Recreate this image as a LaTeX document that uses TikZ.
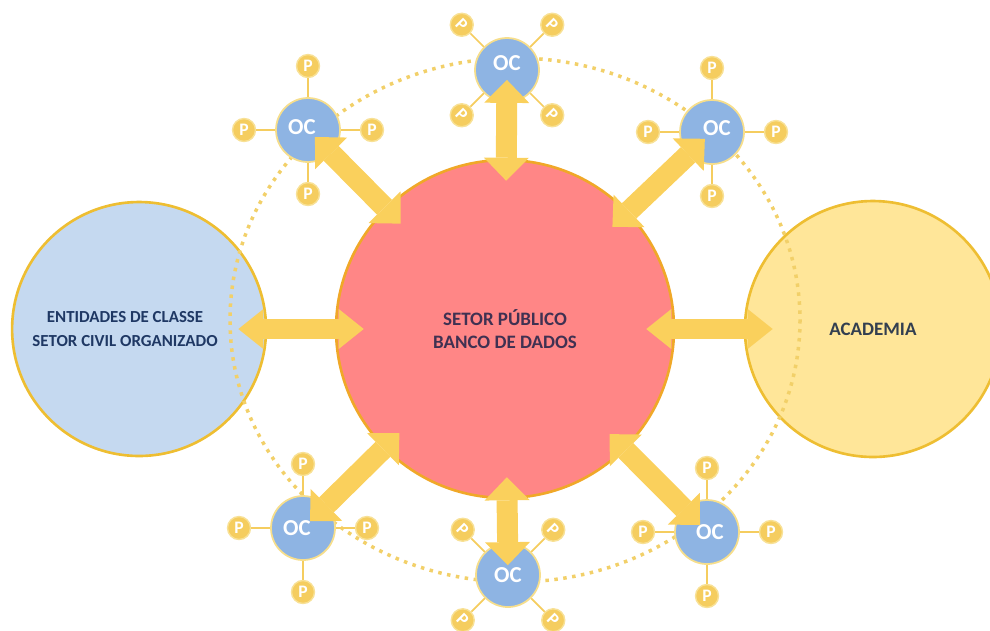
\documentclass[tikz,border=0pt]{standalone}
\usepackage{tikz}
\usepackage{graphicx}
\usepackage{xcolor}
\usepackage{fontspec}
\setmainfont{Carlito}
\usetikzlibrary{positioning}
\usetikzlibrary{arrows.meta}

\definecolor{pubfill}{RGB}{255,134,134}
\definecolor{publine}{RGB}{240,168,40}
\definecolor{entfill}{RGB}{197,217,240}
\definecolor{acafill}{RGB}{255,230,153}
\definecolor{goldline}{RGB}{238,190,50}
\definecolor{ocfill}{RGB}{142,180,227}
\definecolor{ocline}{RGB}{246,222,140}
\definecolor{pfill}{RGB}{245,205,95}
\definecolor{pline}{RGB}{248,225,150}
\definecolor{arrowfill}{RGB}{250,208,92}
\definecolor{ringcol}{RGB}{242,208,105}
\definecolor{pubtext}{RGB}{64,49,82}
\definecolor{enttext}{RGB}{31,56,100}
\definecolor{acatext}{RGB}{51,63,80}

\tikzstyle{public} = [circle, minimum size=6.76cm, align=center, draw=publine, line width=1.5pt, fill=pubfill, text=pubtext, font=\fontsize{10.8}{13.5}\selectfont\bfseries]
\tikzstyle{entity} = [circle, minimum size=5.08cm, align=center, draw=goldline, line width=1.5pt, fill=entfill, text=enttext, font=\fontsize{9.6}{13.5}\selectfont\bfseries]
\tikzstyle{academy} = [circle, minimum size=5.12cm, align=center, draw=goldline, line width=1.5pt, fill=acafill, text=acatext, font=\fontsize{10.8}{13.5}\selectfont\bfseries]
\tikzstyle{oc} = [circle, minimum size=1.28cm, inner sep=0pt, draw=ocline, line width=1pt, fill=ocfill, text=white, font=\fontsize{13}{13}\selectfont\bfseries]
\tikzstyle{pnode} = [circle, minimum size=0.46cm, inner sep=0pt, draw=pline, line width=0.8pt, fill=pfill, text=white, font=\fontsize{10}{10}\selectfont\bfseries]
\tikzstyle{pwire} = [draw=pfill, line width=1pt]
\tikzstyle{ring} = [draw=ringcol, line width=0.07cm, dash pattern=on 0.07cm off 0.11cm]
\tikzstyle{dblarrow} = [draw=arrowfill, line width=0.42cm, {Triangle[length=0.46cm, width=0.9cm, line width=0pt]}-{Triangle[length=0.46cm, width=0.9cm, line width=0pt]}, shorten <=-0.46cm, shorten >=-0.44cm]
\tikzstyle{sidearrow} = [draw=arrowfill, line width=0.4cm, {Triangle[length=0.5cm, width=0.8cm, line width=0pt]}-{Triangle[length=0.5cm, width=0.8cm, line width=0pt]}, shorten <=-0.58cm, shorten >=-0.58cm]

\begin{document}
\begin{tikzpicture}[x=0.02cm, y=-0.02cm, node distance=1.28cm]
        \useasboundingbox (0,0) rectangle (990,630);

        \node (pub) [public] at (505,329) {SETOR PÚBLICO\\ BANCO DE DADOS};
        \node (entidades) [entity, left of=pub, xshift=-6.04cm] {ENTIDADES DE CLASSE\hspace*{0.56cm}\\ SETOR CIVIL ORGANIZADO\hspace*{0.56cm}};
        \node (academia) [academy, right of=pub, xshift=6.08cm] {ACADEMIA};

        \coordinate (ringcentre) at (515,320);
        \draw [ring] (ringcentre) ellipse [x radius=285, y radius=262];

        % OC text nudged away from the arrow heads
        \node (oc1) [oc] at (308,130) {\raisebox{0.12cm}{OC}\hspace*{0.24cm}};
        \node (oc2) [oc] at (507,70) {\raisebox{0.28cm}{OC}};
        \node (oc3) [oc] at (712,132) {\hspace*{0.2cm}\raisebox{0.16cm}{OC}};
        \node (oc4) [oc] at (303,528) {\raisebox{-0.08cm}{OC}\hspace*{0.24cm}};
        \node (oc5) [oc] at (508,575) {\raisebox{-0.32cm}{OC}};
        \node (oc6) [oc] at (707,532) {\hspace*{0.12cm}\raisebox{-0.12cm}{OC}};

        \node (p1a) [pnode, above of=oc1] {P};
        \node (p1b) [pnode, left of=oc1] {P};
        \node (p1c) [pnode, right of=oc1] {P};
        \node (p1d) [pnode, below of=oc1] {P};
        \node (p2a) [pnode, above left of=oc2] {\rotatebox{-45}{P}};
        \node (p2b) [pnode, above right of=oc2] {\rotatebox{-45}{P}};
        \node (p2c) [pnode, below left of=oc2] {\rotatebox{-45}{P}};
        \node (p2d) [pnode, below right of=oc2] {\rotatebox{-45}{P}};
        \node (p3a) [pnode, above of=oc3] {P};
        \node (p3b) [pnode, left of=oc3] {P};
        \node (p3c) [pnode, right of=oc3] {P};
        \node (p3d) [pnode, below of=oc3] {P};
        \node (p4a) [pnode, above of=oc4] {P};
        \node (p4b) [pnode, left of=oc4] {P};
        \node (p4c) [pnode, right of=oc4] {P};
        \node (p4d) [pnode, below of=oc4] {P};
        \node (p5a) [pnode, above left of=oc5] {\rotatebox{-45}{P}};
        \node (p5b) [pnode, above right of=oc5] {\rotatebox{-45}{P}};
        \node (p5c) [pnode, below left of=oc5] {\rotatebox{-45}{P}};
        \node (p5d) [pnode, below right of=oc5] {\rotatebox{-45}{P}};
        \node (p6a) [pnode, above of=oc6] {P};
        \node (p6b) [pnode, left of=oc6] {P};
        \node (p6c) [pnode, right of=oc6] {P};
        \node (p6d) [pnode, below of=oc6] {P};

        \draw [pwire] (oc1) -- (p1a);
        \draw [pwire] (oc1) -- (p1b);
        \draw [pwire] (oc1) -- (p1c);
        \draw [pwire] (oc1) -- (p1d);
        \draw [pwire] (oc2) -- (p2a);
        \draw [pwire] (oc2) -- (p2b);
        \draw [pwire] (oc2) -- (p2c);
        \draw [pwire] (oc2) -- (p2d);
        \draw [pwire] (oc3) -- (p3a);
        \draw [pwire] (oc3) -- (p3b);
        \draw [pwire] (oc3) -- (p3c);
        \draw [pwire] (oc3) -- (p3d);
        \draw [pwire] (oc4) -- (p4a);
        \draw [pwire] (oc4) -- (p4b);
        \draw [pwire] (oc4) -- (p4c);
        \draw [pwire] (oc4) -- (p4d);
        \draw [pwire] (oc5) -- (p5a);
        \draw [pwire] (oc5) -- (p5b);
        \draw [pwire] (oc5) -- (p5c);
        \draw [pwire] (oc5) -- (p5d);
        \draw [pwire] (oc6) -- (p6a);
        \draw [pwire] (oc6) -- (p6b);
        \draw [pwire] (oc6) -- (p6c);
        \draw [pwire] (oc6) -- (p6d);

        \draw [dblarrow] (oc1) -- (pub);
        \draw [dblarrow] (oc2) -- (pub);
        \draw [dblarrow] (oc3) -- (pub);
        \draw [dblarrow] (oc4) -- (pub);
        \draw [dblarrow] (oc5) -- (pub);
        \draw [dblarrow] (oc6) -- (pub);
        \draw [sidearrow] (entidades) -- (pub);
        \draw [sidearrow] (pub) -- (academia);

    \end{tikzpicture}
\end{document}
